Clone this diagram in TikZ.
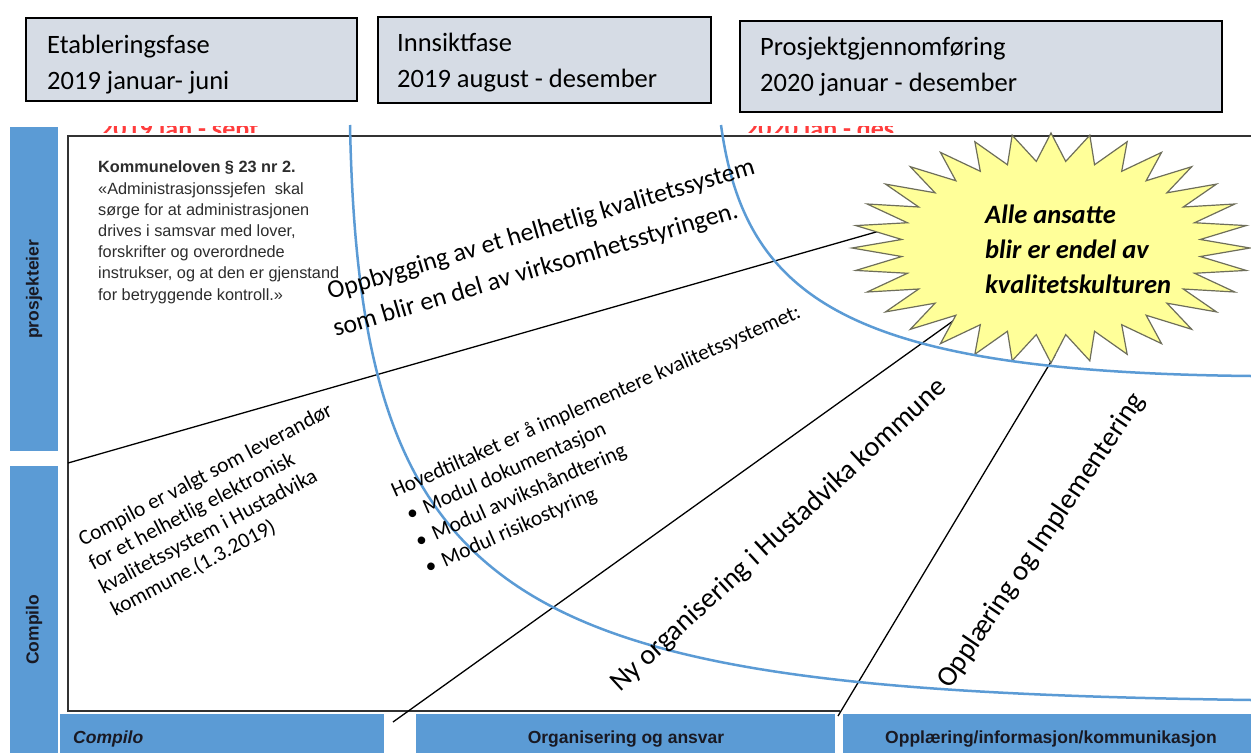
\documentclass[tikz,border=0pt]{standalone}
\usepackage{fontspec}
\setmainfont{Carlito}
\newfontfamily\arialf{Liberation Sans}
\definecolor{barblue}{RGB}{91,155,213}
\definecolor{headfill}{RGB}{214,220,229}
\definecolor{curveblue}{RGB}{91,155,213}
\definecolor{starfill}{RGB}{255,255,153}
\definecolor{stardraw}{RGB}{110,110,90}
\definecolor{lawgray}{RGB}{45,45,45}
\definecolor{bartext}{RGB}{25,25,35}
\definecolor{framegray}{RGB}{50,50,50}
\definecolor{fadedred}{RGB}{255,60,60}
\begin{document}
\begin{tikzpicture}[x=1pt,y=-1pt,
  phase/.style={draw=black, line width=1.5pt, fill=headfill, anchor=north west, inner sep=0pt},
  headtxt/.style={anchor=base west, inner sep=0pt, align=left, font=\fontsize{26.5}{36}\selectfont},
  bluebar/.style={fill=barblue, draw=none, anchor=north west, inner sep=0pt},
  sidetxt/.style={rotate=90, text=bartext, font=\arialf\bfseries\fontsize{17.5}{20}\selectfont},
  bartxt/.style={text=bartext, inner sep=0pt, font=\arialf\bfseries\fontsize{17.5}{20}\selectfont},
  conn/.style={draw=black, line width=1.3pt},
  arcline/.style={draw=curveblue, line width=2.5pt},
  frameline/.style={draw=framegray, line width=2pt},
  rottxt/.style={anchor=base west, inner sep=0pt, align=left},
  redtxt/.style={anchor=base west, inner sep=0pt, text=fadedred, font=\bfseries\fontsize{26}{30}\selectfont}
]
\useasboundingbox (0,0) rectangle (1251,753);
\fill[white] (0,0) rectangle (1251,753);

% faint clipped red labels (mostly hidden in the reference)
\begin{scope}
\clip (95,126) rectangle (300,132);
\node[redtxt] (red1) at (100,137) {2019 jan - sept};
\end{scope}
\begin{scope}
\clip (740,126) rectangle (910,132);
\node[redtxt] (red2) at (745,137) {2020 jan - des};
\end{scope}

% header boxes
\node[phase, minimum width=331pt, minimum height=83pt] (ph1) at (25,17) {};
\node[phase, minimum width=333pt, minimum height=86pt] (ph2) at (377,16) {};
\node[phase, minimum width=482pt, minimum height=91pt] (ph3) at (739,20) {};
% (multi-line nodes: base anchor = last line)
\node[headtxt] (ph1t) at (47,89) {Etableringsfase\\2019 januar- juni};
\node[headtxt] (ph2t) at (397,87) {Innsiktfase\\2019 august - desember};
\node[headtxt] (ph3t) at (760,91) {Prosjektgjennomføring\\2020 januar - desember};

% side bars
\node[bluebar, minimum width=48pt, minimum height=324pt] (barP) at (10,127) {};
\node[bluebar, minimum width=48pt, minimum height=287pt] (barC) at (10,466) {};
\node[sidetxt] (barPt) at (barP.center) {prosjekteier};
\node[sidetxt] (barCt) at ([yshift=-20pt]barC.center) {Compilo};

% bottom bars
\node[bluebar, minimum width=324pt, minimum height=39pt] (botC) at (60,714) {};
\node[bluebar, minimum width=419pt, minimum height=39pt] (botO) at (416,714) {};
\node[bluebar, minimum width=408pt, minimum height=39pt] (botP) at (843,714) {};
\node[bartxt, anchor=base west, font=\arialf\bfseries\itshape\fontsize{17.5}{20}\selectfont] (botCt) at (73,743) {Compilo};
\node[bartxt, anchor=base] (botOt) at (626,743) {Organisering og ansvar};
\node[bartxt, anchor=base] (botPt) at (1051,743) {Opplæring/informasjon/kommunikasjon};

% frame
\draw[frameline] (1251,136) -- (68,136) -- (68,711) -- (840,711);

% connector coordinates
\coordinate (l1a) at (68,463);
\coordinate (l1b) at (890,228);
\coordinate (l2a) at (393,722);
\coordinate (l2b) at (960,316);
\coordinate (l3a) at (838,716);
\coordinate (l3b) at (1055,355);
\draw[conn] (l1a) -- (l1b);
\draw[conn] (l2a) -- (l2b);
\draw[conn] (l3a) -- (l3b);

% star
\draw[fill=starfill, draw=stardraw, line width=1.2pt]
  plot[samples at={0,...,63}, variable=\k]
  ({1051+ifthenelse(mod(\k,2)==0,199,150)*cos(90+\k*5.625)},
   {248-ifthenelse(mod(\k,2)==0,115,87)*sin(90+\k*5.625)}) -- cycle;
\node[rottxt, font=\bfseries\itshape\fontsize{26.5}{35}\selectfont] (star) at (985,293)
  {Alle ansatte\\blir er endel av\\kvalitetskulturen};

% blue curves
\draw[arcline] (350,125) .. controls (360,620) and (520,690) .. (1251,700);
\draw[arcline] (721,125) .. controls (745,300) and (850,372) .. (1251,376);

% texts
\node[rottxt, text=lawgray, font=\arialf\fontsize{16.3}{21.2}\selectfont] (law) at (98,300)
  {\textbf{Kommuneloven § 23 nr 2.}\\«Administrasjonssjefen\ \ skal\\sørge for at administrasjonen\\drives i samsvar med lover,\\forskrifter og overordnede\\instrukser, og at den er gjenstand\\for betryggende kontroll.»};

\node[rottxt, rotate=16.5, font=\fontsize{25.8}{37}\selectfont] (main) at (340.5,335.5)
  {Oppbygging av et helhetlig kvalitetssystem\\\hspace*{-5pt}som blir en del av virksomhetsstyringen.};

\node[rottxt, rotate=27.8, font=\fontsize{21.5}{25.6}\selectfont] (compilo) at (118.8,615)
  {Compilo er valgt som leverandør\\\hspace*{-2pt}for et helhetlig elektronisk\\\hspace*{-4pt}kvalitetssystem i Hustadvika\\\hspace*{-4pt}kommune.(1.3.2019)};

\node[rottxt, rotate=24, font=\fontsize{21.5}{27.8}\selectfont] (hoved) at (428.9,574.2)
  {Hovedtiltaket er å implementere kvalitetssystemet:\\
   \hspace*{4pt}\makebox[18pt][l]{•}Modul dokumentasjon\\
   \hspace*{1.5pt}\makebox[18pt][l]{•}Modul avvikshåndtering\\
   \hspace*{-0.5pt}\makebox[18pt][l]{•}Modul risikostyring};

\node[rottxt, rotate=42.8, font=\fontsize{28.3}{34}\selectfont] (nyorg) at (620,693)
  {Ny organisering i Hustadvika kommune};

\node[rottxt, rotate=56, font=\fontsize{28.5}{34}\selectfont] (opplaer) at (950,690)
  {Opplæring og Implementering};
\end{tikzpicture}
\end{document}
